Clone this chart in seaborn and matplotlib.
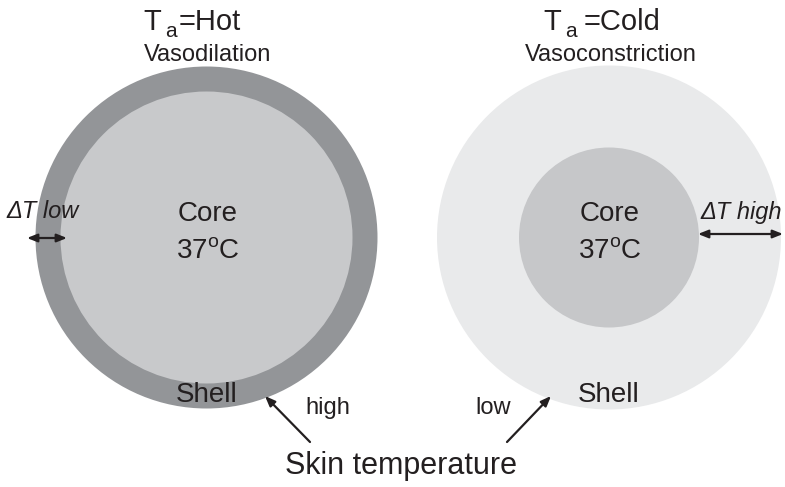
import matplotlib
matplotlib.use("Agg")
import matplotlib.pyplot as plt
import seaborn as sns
from matplotlib.patches import Circle

# ---- data ----
conditions = ["Hot", "Cold"]
responses = ["Vasodilation", "Vasoconstriction"]
body_radius = [171, 172]          # whole body (shell outer edge)
core_radius = [146, 90]           # core size
core_temp = ["37", "37"]
delta_t_labels = ["low", "high"]
skin_temp_labels = ["high", "low"]

sns.set_theme(style="white")
plt.rcParams['font.family'] = ['Liberation Sans', 'DejaVu Sans']
plt.rcParams['mathtext.fontset'] = 'custom'
plt.rcParams['mathtext.rm'] = 'Liberation Sans'
plt.rcParams['mathtext.it'] = 'Liberation Sans:italic'

W, H = 785, 487
fig = plt.figure(figsize=(W / 100, H / 100), dpi=100)
ax = fig.add_axes([0, 0, 1, 1])
ax.set_xlim(0, W)
ax.set_ylim(H, 0)
ax.axis("off")

txt = "#231f20"
centers = [(206.5, 237.5), (609, 237.5)]
shell_col = ["#939598", "#e9eaeb"]
core_col = ["#c8c9cb", "#c6c7c9"]

for i, (cx, cy) in enumerate(centers):
    ax.add_patch(Circle((cx, cy), body_radius[i], color=shell_col[i], lw=0))
    ax.add_patch(Circle((cx, cy), core_radius[i], color=core_col[i], lw=0))
    ax.text(cx + 1, 214, "Core", ha="center", va="center", fontsize=20, color=txt)
    ax.text(cx + 1, 251, core_temp[i] + r"$^{\mathrm{o}}$C", ha="center", va="center",
            fontsize=20, color=txt)
    ax.text(cx, 395, "Shell", ha="center", va="center", fontsize=20, color=txt)

# titles: T with subscript a, then "=condition"
title_x = [(143, 165, 179), (543, 565, 584)]
title_eq = ["=", "="]
for i, (xt, xa, xe) in enumerate(title_x):
    ax.text(xt, 30, "T", ha="left", va="baseline", fontsize=21, color=txt)
    ax.text(xa, 37, "a", ha="left", va="baseline", fontsize=15, color=txt)
    ax.text(xe, 30, title_eq[i] + conditions[i], ha="left", va="baseline",
            fontsize=21, color=txt)
ax.text(208, 55, responses[0], ha="center", va="center", fontsize=17, color=txt)
ax.text(611, 55, responses[1], ha="center", va="center", fontsize=17, color=txt)

# delta T
ax.text(43, 211, "\u0394T " + delta_t_labels[0], ha="center", va="center",
        fontsize=17, style="italic", color=txt)
ax.annotate("", xy=(27, 238), xytext=(67, 238),
            arrowprops=dict(arrowstyle="<|-|>,head_length=0.5,head_width=0.2",
                            color=txt, lw=1.6, shrinkA=0, shrinkB=0))
ax.text(741, 212, "\u0394T " + delta_t_labels[1], ha="center", va="center",
        fontsize=17, style="italic", color=txt)
ax.annotate("", xy=(698, 234), xytext=(783, 234),
            arrowprops=dict(arrowstyle="<|-|>,head_length=0.5,head_width=0.2",
                            color=txt, lw=1.6, shrinkA=0, shrinkB=0))

# skin temperature
ax.text(328, 408, skin_temp_labels[0], ha="center", va="center", fontsize=17, color=txt)
ax.text(493, 408, skin_temp_labels[1], ha="center", va="center", fontsize=17, color=txt)
ax.annotate("", xy=(265, 396), xytext=(310, 442),
            arrowprops=dict(arrowstyle="-|>,head_length=0.5,head_width=0.2",
                            color=txt, lw=1.6, shrinkA=0, shrinkB=0))
ax.annotate("", xy=(551, 396), xytext=(507, 442),
            arrowprops=dict(arrowstyle="-|>,head_length=0.5,head_width=0.2",
                            color=txt, lw=1.6, shrinkA=0, shrinkB=0))
ax.text(401, 466, "Skin temperature", ha="center", va="center", fontsize=22, color=txt)

fig.savefig("out.png", dpi=100)
